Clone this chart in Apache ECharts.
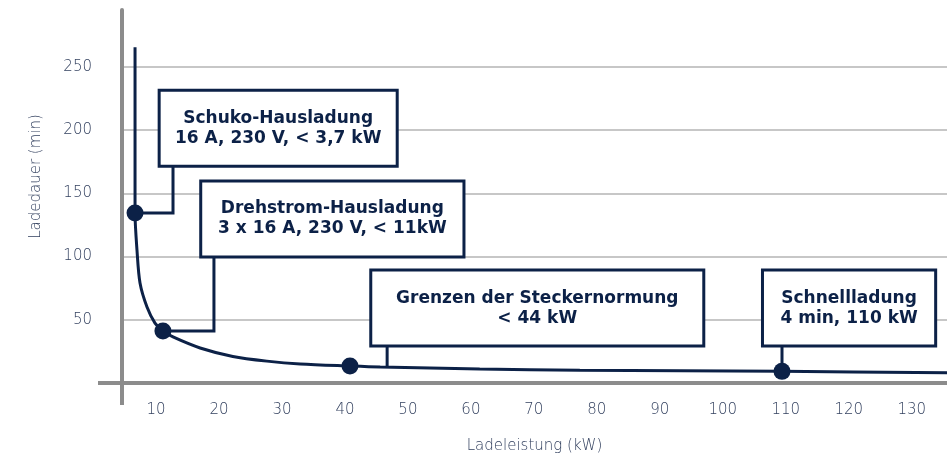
<!DOCTYPE html>
<html>
<head>
<meta charset="utf-8">
<script src="https://cdn.jsdelivr.net/npm/echarts@6/dist/echarts.min.js"></script>
<style>
  html, body { margin: 0; padding: 0; background: #fff; }
  #chart { width: 947px; height: 459px; }
</style>
</head>
<body>
<div id="chart"></div>
<script>
// curve (kW -> min)
const curveKw  = [6.67, 6.67, 6.98, 7.46, 8.57, 9.84, 11.1, 12.7, 17.0, 22.2, 27.6, 32.9, 40.8, 45.6, 61.4, 77.3, 109.4, 135.6];
const curveMin = [265.6, 134.4, 105.1, 79.1, 60.1, 47.4, 41.1, 36.4, 27.7, 21.0, 17.3, 15.0, 13.4, 12.6, 11.1, 10.1, 9.2, 8.1];

// marked points on the curve
const pointKw  = [6.67, 11.1, 40.8, 109.4];
const pointMin = [134.4, 41.1, 13.4, 9.2];

const xTicks = [10, 20, 30, 40, 50, 60, 70, 80, 90, 100, 110, 120, 130];
const calloutTexts = [
  "Schuko-Hausladung\n16 A, 230 V, < 3,7 kW",
  "Drehstrom-Hausladung\n3 x 16 A, 230 V, < 11kW",
  "Grenzen der Steckernormung\n< 44 kW",
  "Schnellladung\n4 min, 110 kW"
];

const NAVY = "#0c2147";
const LABEL = "#33415f";
const AXIS_GREY = "#8c8c8c";
const X_MIN = 4.6, X_MAX = 135.6;

// box corners [x1, y1, x2, y2] and leader path, in axis units
const calloutLayout = [
  { box: [10.5, 231.6, 48.3, 171.5], leader: [[6.67, 134.4], [12.7, 134.4], [12.7, 171.5]] },
  { box: [17.1, 159.7, 58.9, 99.6],  leader: [[11.1, 41.1], [19.2, 41.1], [19.2, 99.6]] },
  { box: [44.1, 89.3, 96.98, 29.2],  leader: [[46.7, 12.8], [46.7, 29.2]] },
  { box: [106.3, 89.3, 133.8, 29.2], leader: [[109.4, 9.2], [109.4, 29.2]] }
];

const chart = echarts.init(document.getElementById("chart"));

const tickFont = { color: LABEL, fontFamily: "DejaVu Sans", fontWeight: 300, fontSize: 15 };

const option = {
  backgroundColor: "#fff",
  animation: false,
  grid: { left: 122, right: 0, top: 10, bottom: 76 },
  xAxis: {
    type: "value",
    min: X_MIN,
    max: X_MAX,
    name: "Ladeleistung (kW)",
    nameLocation: "middle",
    nameGap: 56,
    nameTextStyle: tickFont,
    axisLine: { show: true, onZero: false, lineStyle: { color: AXIS_GREY, width: 4 } },
    axisTick: { show: false },
    splitLine: { show: false },
    axisLabel: Object.assign({ customValues: xTicks, margin: 20 }, tickFont)
  },
  yAxis: {
    type: "value",
    min: 0,
    max: 295,
    interval: 50,
    name: "Ladedauer (min)",
    nameLocation: "middle",
    nameGap: 78,
    nameTextStyle: Object.assign({ padding: [0, 0, 0, 40] }, tickFont),
    axisLine: { show: true, onZero: false, lineStyle: { color: AXIS_GREY, width: 4 } },
    axisTick: { show: false },
    splitLine: {
      show: true,
      showMinLine: false,
      showMaxLine: false,
      lineStyle: { color: "#b5b5b5", width: 1.5 }
    },
    axisLabel: Object.assign({ showMinLabel: false, showMaxLabel: false, margin: 30 }, tickFont)
  },
  series: [
    {
      type: "line",
      data: curveKw.map((x, i) => [x, curveMin[i]]),
      showSymbol: false,
      smooth: 0.3,
      lineStyle: { color: NAVY, width: 3 },
      z: 2
    },
    {
      type: "custom",
      clip: false,
      z: 3,
      data: calloutTexts.map((t, i) => [calloutLayout[i].box[0], calloutLayout[i].box[1]]),
      renderItem: function (params, api) {
        const c = calloutLayout[params.dataIndex];
        const tl = api.coord([c.box[0], c.box[1]]);
        const br = api.coord([c.box[2], c.box[3]]);
        const pts = c.leader.map((p) => api.coord(p));
        return {
          type: "group",
          children: [
            { type: "polyline", shape: { points: pts }, style: { stroke: NAVY, lineWidth: 3, fill: null } },
            {
              type: "rect",
              shape: { x: tl[0], y: tl[1], width: br[0] - tl[0], height: br[1] - tl[1] },
              style: { fill: "#fff", stroke: NAVY, lineWidth: 3 }
            },
            {
              type: "text",
              x: (tl[0] + br[0]) / 2,
              y: (tl[1] + br[1]) / 2,
              style: {
                text: calloutTexts[params.dataIndex],
                fill: NAVY,
                fontFamily: "DejaVu Sans",
                fontWeight: "bold",
                fontSize: 17,
                lineHeight: 20,
                align: "center",
                verticalAlign: "middle"
              }
            }
          ]
        };
      }
    },
    {
      type: "scatter",
      data: pointKw.map((x, i) => [x, pointMin[i]]),
      symbol: "circle",
      symbolSize: 17,
      itemStyle: { color: NAVY, opacity: 1 },
      z: 5
    }
  ]
};

chart.setOption(option);

// little overhangs of the two axis lines past their crossing
const o = chart.convertToPixel({ gridIndex: 0 }, [X_MIN, 0]);
chart.setOption({
  graphic: [
    { type: "line", shape: { x1: o[0] - 24, y1: o[1], x2: o[0] + 2, y2: o[1] }, style: { stroke: AXIS_GREY, lineWidth: 4 } },
    { type: "line", shape: { x1: o[0], y1: o[1] - 2, x2: o[0], y2: o[1] + 22 }, style: { stroke: AXIS_GREY, lineWidth: 4 } }
  ]
});
</script>
</body>
</html>
